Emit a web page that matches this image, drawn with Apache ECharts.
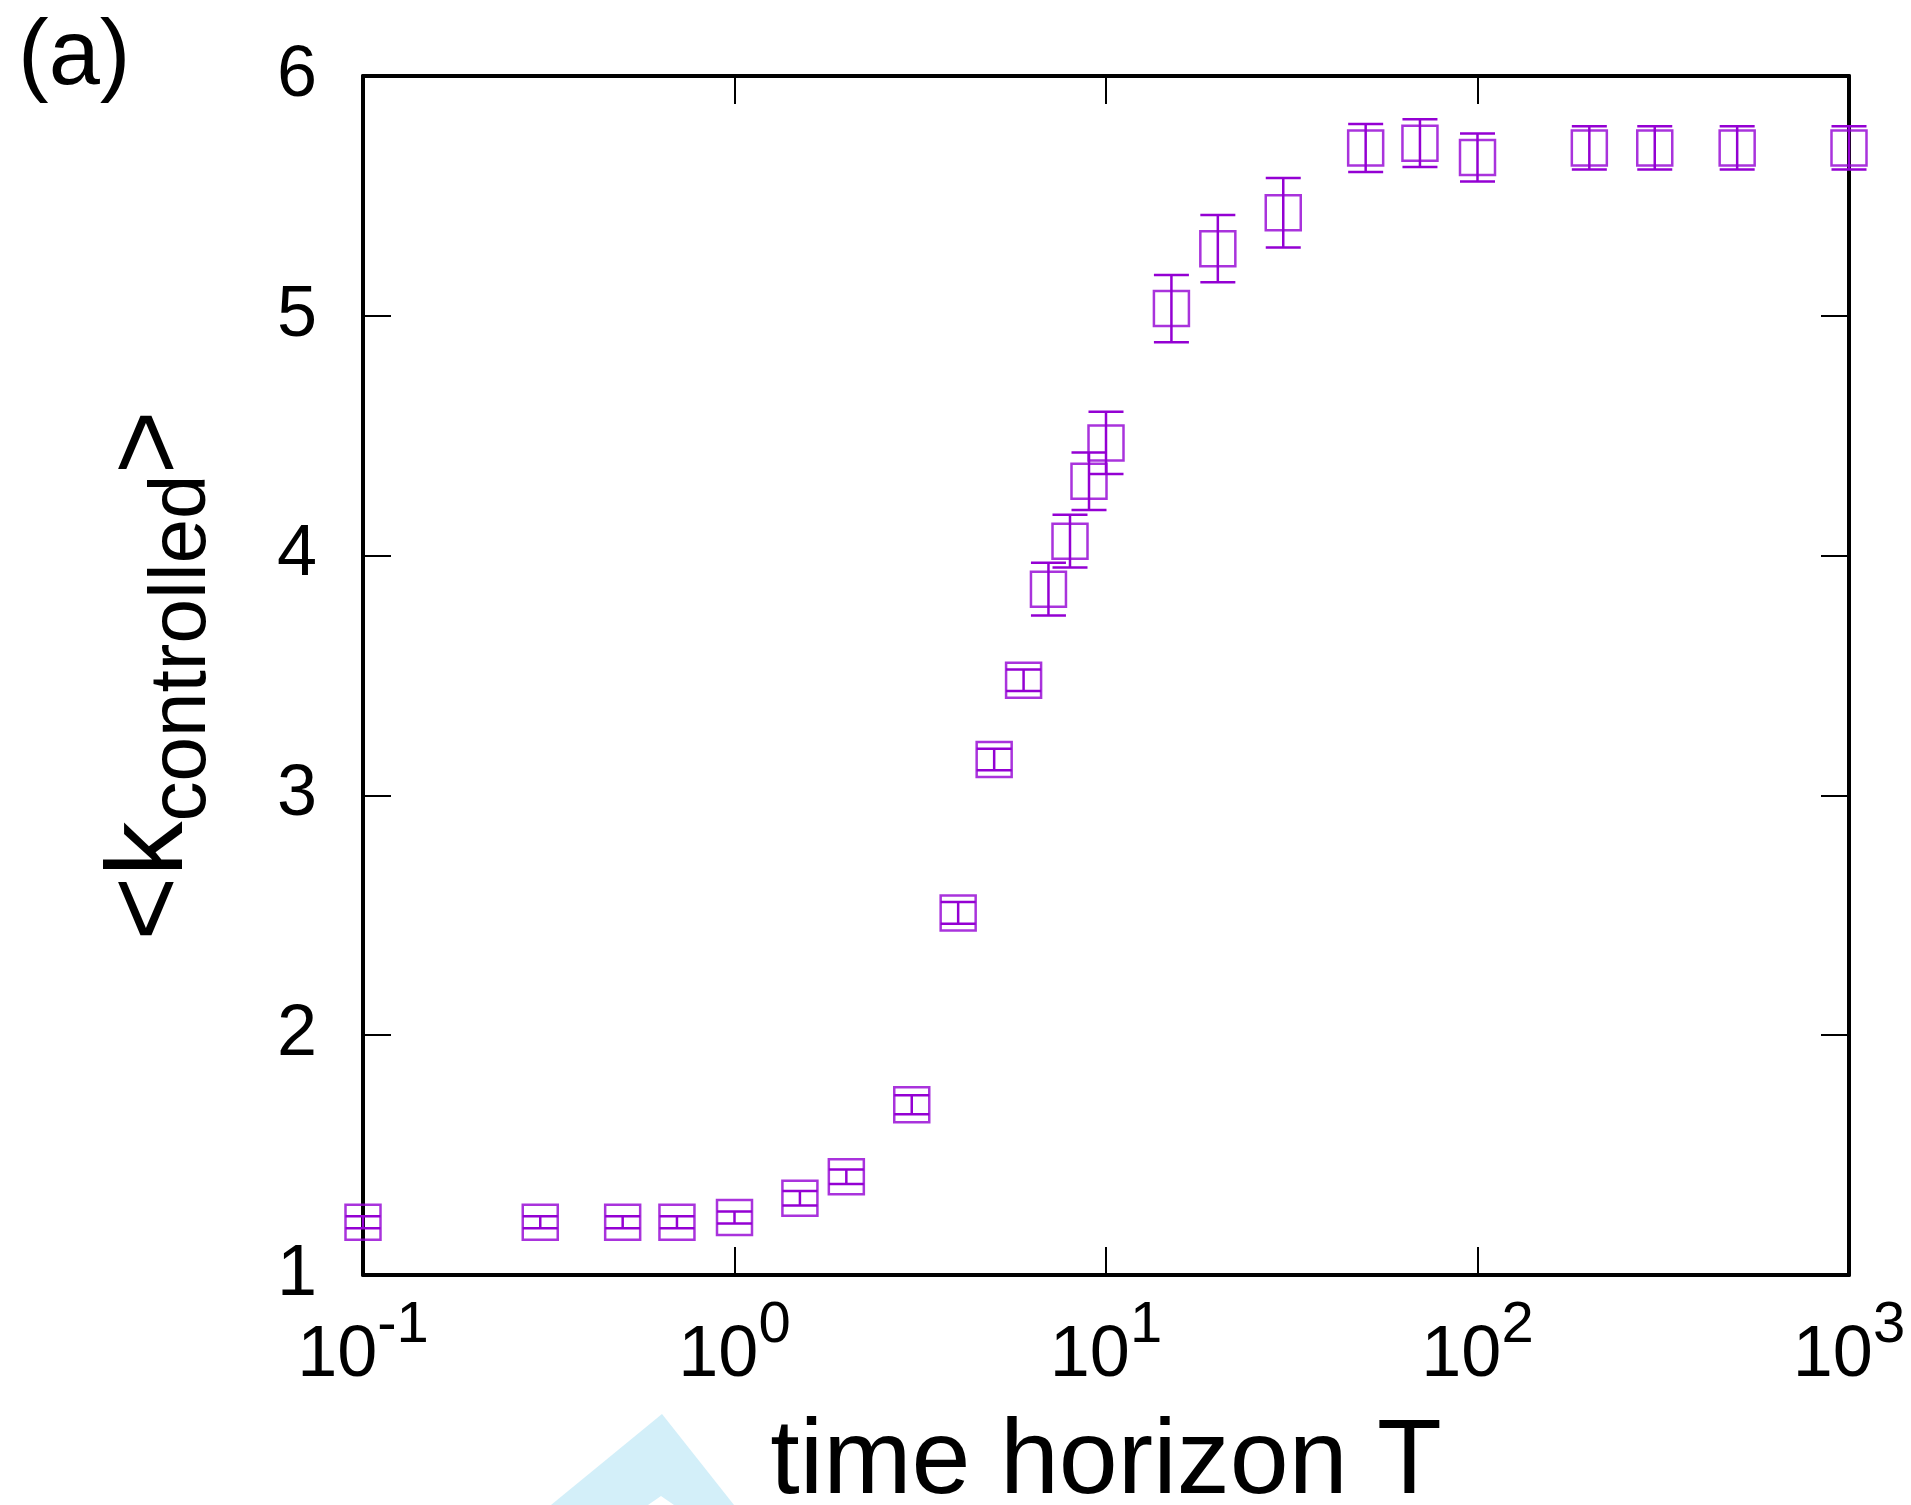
<!DOCTYPE html>
<html>
<head>
<meta charset="utf-8">
<title>&lt;k_controlled&gt; vs time horizon T</title>
<script src="https://cdn.jsdelivr.net/npm/echarts@6/dist/echarts.min.js"></script>
<style>
  html, body { margin: 0; padding: 0; background: #fff; }
  #chart { width: 1911px; height: 1505px; }
</style>
</head>
<body>
<div id="chart"></div>
<script>
// Time horizon T (log scale) and the mean number of controlled nodes with its error
const horizonT = [0.1, 0.3, 0.5, 0.7, 1, 1.5, 2, 3, 4, 5, 6, 7, 8, 9, 10, 15, 20, 30, 50, 70, 100, 200, 300, 500, 1000];
const kMean    = [1.22, 1.22, 1.22, 1.22, 1.24, 1.32, 1.41, 1.71, 2.51, 3.15, 3.48, 3.86, 4.06, 4.31, 4.47, 5.03, 5.28, 5.43, 5.70, 5.72, 5.66, 5.70, 5.70, 5.70, 5.70];
const kErr     = [0.025, 0.025, 0.025, 0.025, 0.025, 0.03, 0.03, 0.04, 0.045, 0.045, 0.045, 0.11, 0.11, 0.12, 0.13, 0.14, 0.14, 0.145, 0.10, 0.10, 0.10, 0.09, 0.09, 0.09, 0.09];

// Axis ranges and tick values
const xRange = [0.1, 1000];
const yRange = [1, 6];
const yStep = 1;

const FONT = '"Liberation Sans", Arial, Helvetica, sans-serif';
const PURPLE = '#9400D3';
const BOX = 35;

const points = horizonT.map((t, i) => [t, kMean[i], kErr[i]]);

const chart = echarts.init(document.getElementById('chart'), null, { renderer: 'canvas' });

const axisLineStyle = { color: '#000', width: 4 };
const tickStyle = { show: true, inside: true, length: 28, lineStyle: { color: '#000', width: 2 } };

function powerLabel(v) {
  const e = Math.round(Math.log10(v));
  return '{b|10}{s|' + e + '}';
}

const option = {
  backgroundColor: '#fff',
  animation: false,
  grid: { left: 363, right: 62, top: 76, bottom: 230, containLabel: false, outerBoundsMode: 'none' },
  xAxis: [
    {
      type: 'log', logBase: 10, min: xRange[0], max: xRange[1], position: 'bottom',
      axisLine: { show: true, lineStyle: axisLineStyle },
      axisTick: tickStyle,
      minorTick: { show: false },
      splitLine: { show: false },
      axisLabel: {
        margin: 22,
        color: '#000',
        fontFamily: FONT,
        formatter: powerLabel,
        rich: {
          b: { fontSize: 72, lineHeight: 72, padding: [23, 0, 0, 0], verticalAlign: 'top', fontFamily: FONT, color: '#000' },
          s: { fontSize: 58, lineHeight: 58, verticalAlign: 'top', fontFamily: FONT, color: '#000' }
        }
      },
      name: 'time horizon T',
      nameLocation: 'middle',
      nameGap: 136,
      nameMoveOverlap: false,
      nameTextStyle: { fontSize: 106, lineHeight: 106, fontFamily: FONT, color: '#000' }
    },
    {
      type: 'log', logBase: 10, min: xRange[0], max: xRange[1], position: 'top',
      axisLine: { show: true, lineStyle: axisLineStyle },
      axisTick: tickStyle,
      splitLine: { show: false },
      axisLabel: { show: false }
    }
  ],
  yAxis: [
    {
      type: 'value', min: yRange[0], max: yRange[1], interval: yStep, position: 'left',
      axisLine: { show: true, lineStyle: axisLineStyle },
      axisTick: tickStyle,
      splitLine: { show: false },
      axisLabel: { margin: 46, fontSize: 72, color: '#000', fontFamily: FONT },
      name: '{a|<k}{b|controlled}{a|>}',
      nameLocation: 'middle',
      nameRotate: 90,
      nameGap: 156,
      nameMoveOverlap: false,
      nameTextStyle: {
        fontFamily: FONT, color: '#000',
        rich: {
          a: { fontSize: 110, lineHeight: 110, verticalAlign: 'top', fontFamily: FONT, color: '#000' },
          b: { fontSize: 80, lineHeight: 80, padding: [46, 0, 0, 0], verticalAlign: 'top', fontFamily: FONT, color: '#000' }
        }
      }
    },
    {
      type: 'value', min: yRange[0], max: yRange[1], interval: yStep, position: 'right',
      axisLine: { show: true, lineStyle: axisLineStyle },
      axisTick: tickStyle,
      splitLine: { show: false },
      axisLabel: { show: false }
    }
  ],
  series: [
    {
      // error bars with caps
      type: 'custom',
      xAxisIndex: 0, yAxisIndex: 0,
      clip: false,
      data: points,
      encode: { x: 0, y: 1 },
      renderItem: function (params, api) {
        const x = api.value(0), y = api.value(1), e = api.value(2);
        const lo = api.coord([x, y - e]);
        const hi = api.coord([x, y + e]);
        const half = BOX / 2;
        const style = { stroke: PURPLE, lineWidth: 2.5, fill: null };
        return {
          type: 'group',
          children: [
            { type: 'line', shape: { x1: lo[0], y1: lo[1], x2: hi[0], y2: hi[1] }, style: style },
            { type: 'line', shape: { x1: lo[0] - half, y1: lo[1], x2: lo[0] + half, y2: lo[1] }, style: style },
            { type: 'line', shape: { x1: hi[0] - half, y1: hi[1], x2: hi[0] + half, y2: hi[1] }, style: style }
          ]
        };
      },
      z: 3
    },
    {
      // open square markers
      type: 'scatter',
      xAxisIndex: 0, yAxisIndex: 0,
      clip: false,
      data: points.map(p => [p[0], p[1]]),
      symbol: 'rect',
      symbolSize: BOX,
      itemStyle: { color: 'rgba(0,0,0,0)', borderColor: PURPLE, borderWidth: 2.5 },
      emphasis: { disabled: true },
      z: 4
    }
  ],
  graphic: [
    {
      type: 'text', left: 18, top: 13,
      style: { text: '(a)', fontSize: 92, fontFamily: FONT, fill: '#000' }
    },
    {
      type: 'polygon',
      shape: { points: [[551, 1505], [662, 1414], [734, 1505]] },
      style: { fill: '#d3eff9' },
      z: 0
    },
    {
      type: 'polygon',
      shape: { points: [[648, 1505], [661, 1496], [674, 1505]] },
      style: { fill: '#ffffff' },
      z: 1
    }
  ]
};

chart.setOption(option);
</script>
</body>
</html>
